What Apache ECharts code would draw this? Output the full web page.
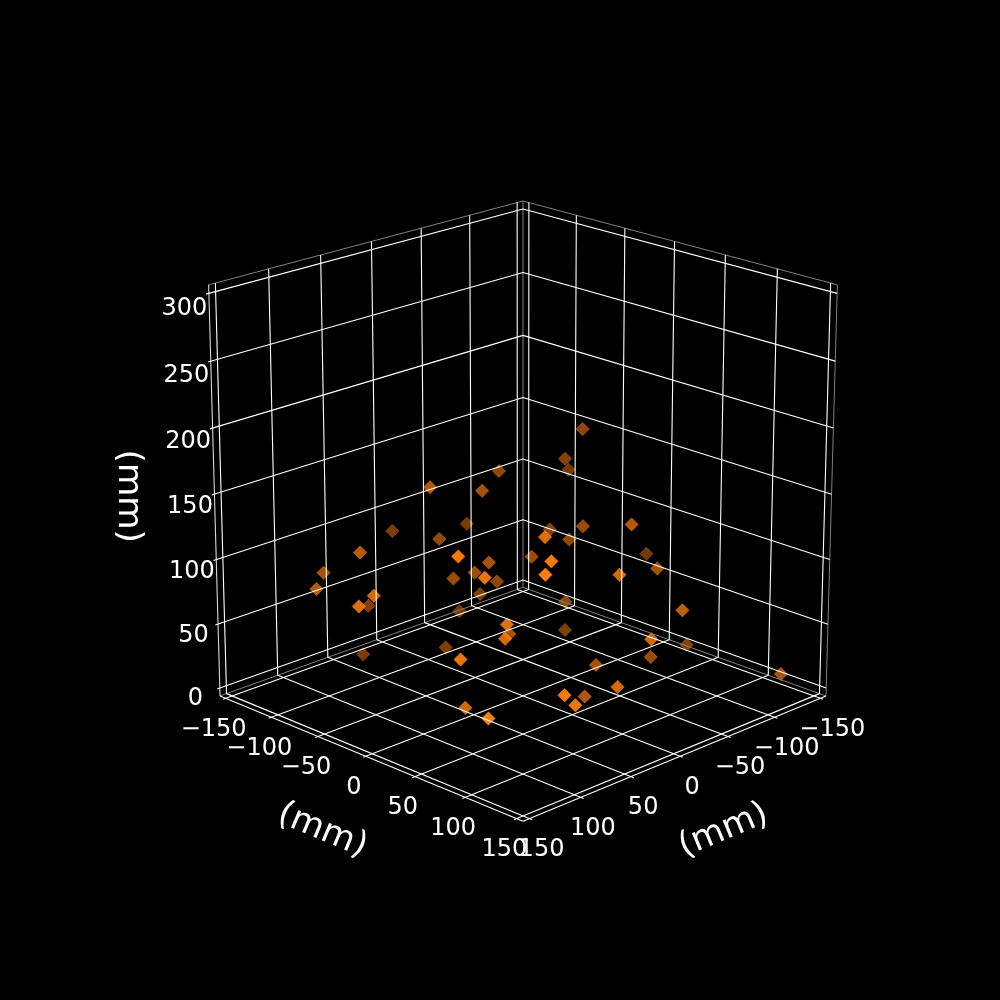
<!DOCTYPE html>
<html><head><meta charset="utf-8"><style>html,body{margin:0;background:#000}#c{width:1000px;height:1000px}</style>
<script src="https://cdn.jsdelivr.net/npm/echarts@6/dist/echarts.min.js"></script></head><body><div id="c"></div>
<script>
const xs=[-66,-66,-50,-96,-128,-85,-84,24,-34,-117,-51,-61,31,-47,-106,-71,-44,-38,-127,-88,39,-11,29,-79,-127,33,21,77,100,98,48,94,39,-20,-8,-30,-45,-56,-40,43,-17,-3,44,0,54,-24,71,81,76,94,103,55,52,136];
const ys=[-41,29,-8,-37,9,2,82,88,1,88,-1,11,69,-20,105,-26,106,126,35,-21,55,3,47,2,41,95,79,111,59,46,-15,-1,-36,-64,-52,-92,-89,-104,-68,21,-65,-65,-67,-130,-84,-33,43,59,-21,-68,-26,-77,-119,-129];
const zs=[141,146,138,93,91,94,105,132,89,82,76,72,113,65,77,47,89,88,39,30,76,40,60,10,2,59,14,32,41,29,3,28,19,22,51,170,144,129,95,134,94,108,121,70,85,87,129,126,103,68,60,18,15,13];
const xTicks=[-150,-100,-50,0,50,100,150],yTicks=[-150,-100,-50,0,50,100,150],zTicks=[0,50,100,150,200,250,300];
const axisLabel='(mm)';
const P=156.25,ZL=-6.25,ZH=306.25,OUT=2.6;
const elev=19.65*Math.PI/180,se=Math.sin(elev),ce=Math.cos(elev),D=10,F=3967,CX=523,CY=494.2,H=.528;
function project(x,y,z){const nx=x/150*H,ny=y/150*H,nz=(z-150)/150*H,s=(nx-ny)/Math.SQRT2,t=(nx+ny)/Math.SQRT2,Yc=-t*se+nz*ce,Zc=t*ce+nz*se,w=D-Zc;return [CX+F*s/w,CY-F*Yc/w];}
function depth(x,y,z){const nx=x/150*H,ny=y/150*H,nz=(z-150)/150*H;return (nx+ny)/Math.SQRT2*ce+nz*se;}
const NEAR=.3,FAR=-.6;
const polys=[];
const grey='#808080',white='#ffffff';
function poly(a,c,w){polys.push({type:'line',silent:true,showSymbol:false,symbol:'none',animation:false,clip:false,lineStyle:{color:c,width:w},data:a.map(q=>project(q[0],q[1],q[2]))});}
poly([[-P,P,ZH],[-P,-P,ZH],[P,-P,ZH],[P,-P,ZL]],grey,1);
poly([[-P,-P,ZL],[-P,-P,ZH]],grey,1);
poly([[-P,P,ZL],[-P,-P,ZL],[P,-P,ZL]],grey,1);
poly([[-P,P,ZL],[-P,P,ZH]],'#d8d8d8',1.1);
poly([[-P,P,ZL],[P,P,ZL],[P,-P,ZL]],white,1.1);
xTicks.forEach(v=>poly([[v,P+OUT,ZL],[v,-P,ZL],[v,-P,ZH]],white,1.1));
yTicks.forEach(v=>poly([[P+OUT,v,ZL],[-P,v,ZL],[-P,v,ZH]],white,1.1));
zTicks.forEach(v=>poly([[-P,P+OUT,v],[-P,-P,v],[P,-P,v]],white,1.1));
const FONT='DejaVu Sans';
function fmt(v){return String(v).replace('-','\u2212');}
function labels(items,size,dx,dy,rot){return {type:'scatter',silent:true,animation:false,clip:false,symbolSize:0,itemStyle:{opacity:1},data:items.map(i=>({value:project(i[0],i[1],i[2]),name:i[3]})),label:{show:true,opacity:1,position:'inside',formatter:p=>p.name,color:'#fff',fontFamily:FONT,fontSize:size,align:'center',verticalAlign:'middle',offset:[dx,dy],rotate:rot}};}
const order=xs.map((c,i)=>i).sort((a,b)=>depth(xs[a],ys[a],zs[a])-depth(xs[b],ys[b],zs[b]));
const marks=order.map(i=>{const a=Math.max(.3,Math.min(1,1-.7*(NEAR-depth(xs[i],ys[i],zs[i]))/(NEAR-FAR)));return {value:project(xs[i],ys[i],zs[i]),itemStyle:{opacity:a}};});
const chart=echarts.init(document.getElementById('c'),null,{renderer:'canvas'});
chart.setOption({animation:false,backgroundColor:'#000',
grid:{left:0,right:0,top:0,bottom:0},
xAxis:{type:'value',min:0,max:1000,show:false},yAxis:{type:'value',min:0,max:1000,inverse:true,show:false},
series:[...polys,
{type:'scatter',animation:false,clip:false,silent:true,symbol:'diamond',symbolSize:13.5,itemStyle:{color:'#ff7f0e',borderColor:'#ff7f0e',borderWidth:0.5},data:marks},
labels(xTicks.map(v=>[v,P,ZL,fmt(v)]),24,-12,31.5,0),
labels(yTicks.map(v=>[P,v,ZL,fmt(v)]),24,12,31.5,0),
labels(zTicks.map(v=>[-P,P,v*.99,fmt(v)]),24,-24.5,11,0),
labels([[0,P,ZL,axisLabel]],34.2,-11.6,85.5,-22.6),
labels([[P,0,ZL,axisLabel]],34.2,11.6,85.5,22.6),
labels([[-P,P,150,axisLabel]],34.2,2,87,-90)
]});
</script></body></html>
